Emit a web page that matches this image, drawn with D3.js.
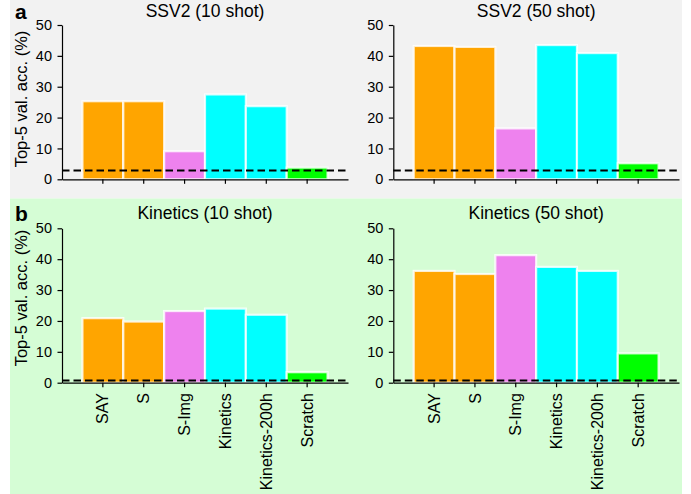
<!DOCTYPE html>
<html>
<head>
<meta charset="utf-8">
<script src="https://cdn.jsdelivr.net/npm/d3@7"></script>
<style>
  html, body { margin: 0; padding: 0; background: #ffffff; }
  svg { display: block; font-family: "Liberation Sans", Arial, Helvetica, sans-serif; }
  svg text { font-family: "Liberation Sans", Arial, Helvetica, sans-serif; }
</style>
</head>
<body>
<svg id="chart" width="691" height="494"></svg>
<script>
// ---- data ----
const categories = ["SAY", "S", "S-Img", "Kinetics", "Kinetics-200h", "Scratch"];
const barColors = ["#ffa500", "#ffa500", "#ee82ee", "#00ffff", "#00ffff", "#00ff00"];
const ssv2Shot10 = [25.3, 25.3, 9.1, 27.5, 23.7, 3.8];
const ssv2Shot50 = [43.2, 42.9, 16.5, 43.5, 40.9, 5.2];
const kineticsShot10 = [20.9, 19.8, 23.2, 24.0, 22.0, 3.4];
const kineticsShot50 = [36.2, 35.2, 41.3, 37.5, 36.2, 9.5];
const yTickValues = [0, 10, 20, 30, 40, 50];
const panelTitles = ["SSV2 (10 shot)", "SSV2 (50 shot)", "Kinetics (10 shot)", "Kinetics (50 shot)"];
const chanceSSV2 = 2.87;
const chanceKinetics = 0.71;
const yLabel = "Top-5 val. acc. (%)";

// ---- layout ----
const svg = d3.select("#chart");
const rowA = { bgY0: 0, bgY1: 198.5, yTop: 25, yBot: 179.3, titleY: 17, letterY: 19, labelCY: 99, bg: "#f2f2f2", letter: "a" };
const rowB = { bgY0: 198.5, bgY1: 494, yTop: 228.3, yBot: 382.7, titleY: 219, letterY: 221, labelCY: 298, bg: "#d5fdd5", letter: "b" };
const colL = [62, 348];
const colR = [393.3, 679];

[rowA, rowB].forEach(r => {
  svg.append("rect").attr("x", 10).attr("y", r.bgY0).attr("width", 672).attr("height", r.bgY1 - r.bgY0).attr("fill", r.bg);
  svg.append("text").attr("x", 15).attr("y", r.letterY).attr("font-size", 21).attr("font-weight", "bold").text(r.letter);
  svg.append("text")
    .attr("transform", `translate(21,${r.labelCY}) rotate(-90)`)
    .attr("text-anchor", "middle").attr("dy", "0.35em")
    .attr("font-size", 16.5).text(yLabel);
});

const panels = [
  { row: rowA, col: colL, values: ssv2Shot10, title: panelTitles[0], chance: chanceSSV2, labels: false },
  { row: rowA, col: colR, values: ssv2Shot50, title: panelTitles[1], chance: chanceSSV2, labels: false },
  { row: rowB, col: colL, values: kineticsShot10, title: panelTitles[2], chance: chanceKinetics, labels: true },
  { row: rowB, col: colR, values: kineticsShot50, title: panelTitles[3], chance: chanceKinetics, labels: true }
];

panels.forEach(p => {
  const x = d3.scaleBand().domain(categories).range(p.col).paddingInner(0).paddingOuter(0.5);
  const y = d3.scaleLinear().domain([0, 50]).range([p.row.yBot, p.row.yTop]);
  const g = svg.append("g");

  // bars
  g.selectAll("rect.bar").data(categories).enter().append("rect")
    .attr("class", "bar")
    .attr("x", d => x(d))
    .attr("width", x.bandwidth())
    .attr("y", (d, i) => y(p.values[i]))
    .attr("height", (d, i) => y(0) - y(p.values[i]))
    .attr("fill", (d, i) => barColors[i])
    .attr("stroke", "rgba(255,255,255,0.8)")
    .attr("stroke-width", 2.2);

  // chance line
  g.append("line")
    .attr("x1", p.col[0]).attr("x2", p.col[1])
    .attr("y1", y(p.chance)).attr("y2", y(p.chance))
    .attr("stroke", "#000").attr("stroke-width", 2)
    .attr("stroke-dasharray", "7.5,4");

  // y axis
  const yAxis = g.append("g").attr("transform", `translate(${p.col[0]},0)`)
    .call(d3.axisLeft(y).tickValues(yTickValues).tickSize(4.5).tickSizeOuter(0).tickPadding(5.5));
  yAxis.attr("font-family", null);
  yAxis.selectAll("text").attr("font-size", 14.5).attr("fill", "#000");
  yAxis.selectAll("line, path").attr("stroke", "#000").attr("stroke-width", 1.2);

  // x axis
  const xAxis = g.append("g").attr("transform", `translate(0,${p.row.yBot})`)
    .call(d3.axisBottom(x).tickSize(4.5).tickSizeOuter(0).tickPadding(6).tickFormat(p.labels ? (d => d) : () => ""));
  xAxis.attr("font-family", null);
  xAxis.selectAll("line, path").attr("stroke", "#000").attr("stroke-width", 1.2);
  xAxis.selectAll("text")
    .attr("font-size", 16).attr("fill", "#000")
    .attr("text-anchor", "end")
    .attr("transform", "rotate(-90)")
    .attr("x", -10.5).attr("y", 0).attr("dy", "0.35em");

  // title
  g.append("text")
    .attr("x", (p.col[0] + p.col[1]) / 2).attr("y", p.row.titleY)
    .attr("text-anchor", "middle").attr("font-size", 17.5).attr("fill", "#000")
    .text(p.title);
});
</script>
</body>
</html>
